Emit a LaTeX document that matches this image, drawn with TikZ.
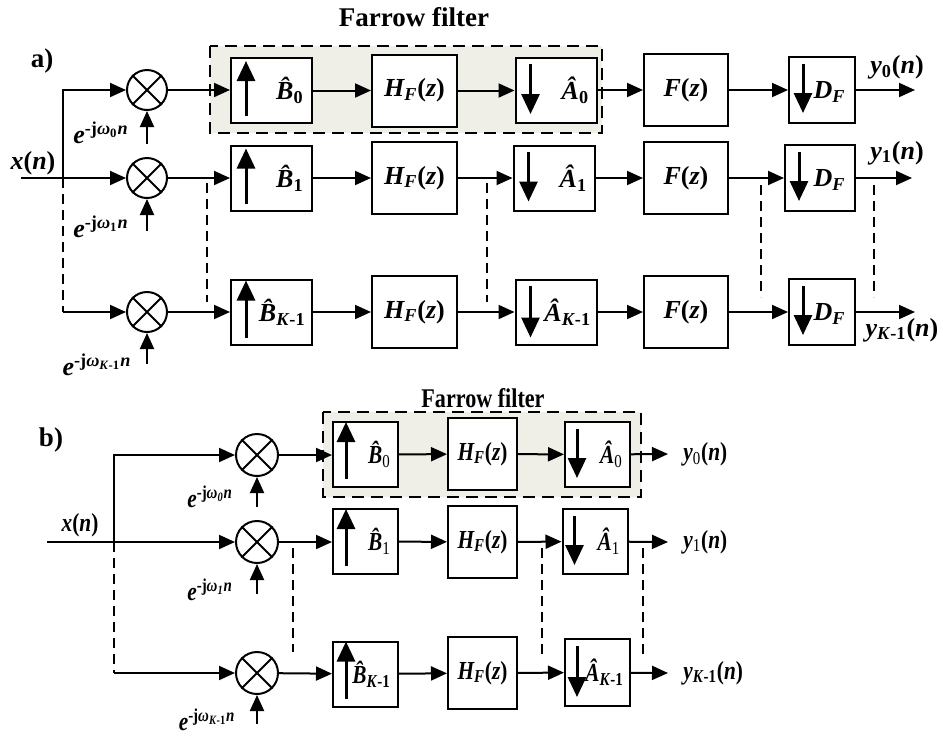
\documentclass[tikz,border=0pt]{standalone}
\usepackage{fontspec}
\setmainfont{Liberation Serif}
\usetikzlibrary{arrows.meta,calc}
\definecolor{farrowbg}{RGB}{239,239,231}
\newcommand{\Bh}[1]{\^{B}\textsubscript{#1}}
\newcommand{\Ah}[1]{\^{A}\textsubscript{#1}}
\newcommand{\km}{K\textup{-1}}
\newcommand{\dg}[1]{\textup{\mdseries #1}}
\newcommand{\HFz}{H\textsubscript{F}\textup{(}z\textup{)}}
\newcommand{\Fz}{F\textup{(}z\textup{)}}
\newcommand{\DF}{D\textsubscript{F}}
\newcommand{\yn}[1]{y\textsubscript{#1}\textup{(}n\textup{)}}
\newcommand{\xn}{x\textup{(}n\textup{)}}
\newcommand{\expo}[1]{e\textsuperscript{\textup{-j}ω\textsubscript{#1}n}}
\newcommand{\nrw}[1]{\scalebox{0.82}[1]{#1}}
\tikzset{
  blk/.style={draw,line width=1pt,fill=white,inner sep=0pt},
  mix/.style={draw,circle,line width=1pt,fill=white,inner sep=0pt,minimum size=20pt},
  arr/.style={line width=1pt,-{Triangle[length=8pt,width=7pt]}},
  inarr/.style={line width=1.5pt,-{Triangle[length=10pt,width=9pt]}},
  dots/.style={line width=1pt,dash pattern=on 5pt off 3pt},
  farrow/.style={line width=1.2pt,dash pattern=on 6pt off 3.5pt,fill=farrowbg},
  tag/.style={font=\fontsize{13.5}{15}\selectfont\bfseries\upshape}
}
\begin{document}
\begin{tikzpicture}[x=0.5pt,y=-0.5pt,
  every node/.style={font=\fontsize{13}{15}\selectfont\bfseries\itshape,inner sep=0pt}]
\useasboundingbox (0,0) rectangle (943,735);
% ---------- a) ----------
\node[tag] (taga) at (42,61) {a)};
\node[tag] (fara) at (414,17) {Farrow filter};
\draw[farrow] (210,46) rectangle (602,133);
\node[mix] (ma0) at (147,90) {};
\node[mix] (ma1) at (147,178) {};
\node[mix] (maK) at (147,312) {};
\node[blk,minimum width=40.5pt,minimum height=32.5pt] (ba0) at (271.5,90.5) {};
\node[blk,minimum width=40.5pt,minimum height=32.5pt] (ba1) at (271.5,178) {};
\node[blk,minimum width=40.5pt,minimum height=32.5pt] (baK) at (271.5,312) {};
\node[blk,minimum width=42.5pt,minimum height=36pt] (ha0) at (414.5,90.5) {\HFz};
\node[blk,minimum width=42.5pt,minimum height=36pt] (ha1) at (414.5,178) {\HFz};
\node[blk,minimum width=42.5pt,minimum height=36pt] (haK) at (414.5,312) {\HFz};
\node[blk,minimum width=40.5pt,minimum height=32.5pt] (aa0) at (556,90.5) {};
\node[blk,minimum width=40.5pt,minimum height=32.5pt] (aa1) at (554,178) {};
\node[blk,minimum width=40.5pt,minimum height=32.5pt] (aaK) at (556,312) {};
\node[blk,minimum width=42pt,minimum height=36pt] (fa0) at (686,90) {\Fz};
\node[blk,minimum width=42pt,minimum height=36pt] (fa1) at (686,178) {\Fz};
\node[blk,minimum width=42pt,minimum height=36pt] (faK) at (686,312) {\Fz};
\node[blk,minimum width=33pt,minimum height=33pt] (da0) at (822,90) {};
\node[blk,minimum width=35pt,minimum height=33pt] (da1) at (820,178) {};
\node[blk,minimum width=33pt,minimum height=33pt] (daK) at (822,312) {};
% labels inside the boxes
\node[anchor=east] (lba0) at ($(ba0.east)+(-9,0)$) {\Bh{\textup{0}}};
\node[anchor=east] (lba1) at ($(ba1.east)+(-9,0)$) {\Bh{\textup{1}}};
\node[anchor=east] (lbaK) at ($(baK.east)+(-7,0)$) {\Bh{\km}};
\node[anchor=east] (laa0) at ($(aa0.east)+(-8,0)$) {\Ah{\textup{0}}};
\node[anchor=east] (laa1) at ($(aa1.east)+(-8,0)$) {\Ah{\textup{1}}};
\node[anchor=east] (laaK) at ($(aaK.east)+(-6,0)$) {\Ah{\km}};
\node[anchor=east] (lda0) at ($(da0.east)+(-10,2)$) {\DF};
\node[anchor=east] (lda1) at ($(da1.east)+(-10,2)$) {\DF};
\node[anchor=east] (ldaK) at ($(daK.east)+(-10,2)$) {\DF};
\draw[inarr] ($(ba0.south west)+(16,-8)$) -- ($(ba0.north west)+(16,4)$);
\draw[inarr] ($(ba1.south west)+(16,-8)$) -- ($(ba1.north west)+(16,4)$);
\draw[inarr] ($(baK.south west)+(16,-8)$) -- ($(baK.north west)+(16,2)$);
\draw[inarr] ($(aa0.north west)+(16,7)$) -- ($(aa0.south west)+(16,-10)$);
\draw[inarr] ($(aa1.north west)+(16,7)$) -- ($(aa1.south west)+(16,-10)$);
\draw[inarr] ($(aaK.north west)+(16,7)$) -- ($(aaK.south west)+(16,-8)$);
\draw[inarr] ($(da0.north west)+(15,8)$) -- ($(da0.south west)+(15,-11)$);
\draw[inarr] ($(da1.north west)+(15,8)$) -- ($(da1.south west)+(15,-11)$);
\draw[inarr] ($(daK.north west)+(15,8)$) -- ($(daK.south west)+(15,-11)$);
% input and mixers
\node[anchor=center] (xa) at (33,163) {\xn};
\coordinate (ina) at (21,178);
\coordinate (ja) at (63,178);
\coordinate (jaK) at (63,312);
\draw[arr] (ina) -- (ma1);
\draw[arr] (ja) |- (ma0);
\draw[dots] (ja) -- (jaK);
\draw[arr] (jaK) -- (maK);
\draw[arr] ($(ma0.south)+(0,33)$) -- (ma0.south);
\draw[arr] ($(ma1.south)+(0,32)$) -- (ma1.south);
\draw[arr] ($(maK.south)+(0,31)$) -- (maK.south);
\node (ea0) at (101,133) {\expo{\textup{0}}};
\node (ea1) at (101,227) {\expo{\textup{1}}};
\node (eaK) at (97,365) {\expo{\km}};
% chain connectors
\draw[arr] (ma0) -- (ba0.west |- ma0);
\draw[arr] (ma1) -- (ba1);
\draw[arr] (maK) -- (baK);
\draw[arr] (ba0.east |- ha0) -- (ha0);
\draw[arr] (ba1) -- (ha1);
\draw[arr] (baK) -- (haK);
\draw[arr] (ha0) -- (aa0.west |- ha0);
\draw[arr] (ha1) -- (aa1);
\draw[arr] (haK) -- (aaK);
\draw[arr] (aa0.east |- fa0) -- (fa0);
\draw[arr] (aa1) -- (fa1);
\draw[arr] (aaK) -- (faK);
\draw[arr] (fa0) -- (da0);
\draw[arr] (fa1) -- (da1);
\draw[arr] (faK) -- (daK);
\coordinate (oa0) at (915,90);
\coordinate (oa1) at (912,178);
\coordinate (oaK) at (915,312);
\draw[arr] (da0) -- (oa0);
\draw[arr] (da1) -- (oa1);
\draw[arr] (daK) -- (oaK);
\node (ya0) at (897,67) {\yn{\textup{0}}};
\node (ya1) at (897,153) {\yn{\textup{1}}};
\node (yaK) at (902,330) {\yn{\km}};
% dashed continuation marks
\draw[dots] (207,183) -- (207,302);
\draw[dots] (487,183) -- (487,302);
\draw[dots] (761,185) -- (761,297);
\draw[dots] (874,185) -- (874,297);
% ---------- b) ----------
\node[tag] (tagb) at (51,440) {b)};
\node[tag] (farb) at (483,398) {\nrw{Farrow filter}};
\draw[farrow] (323,412) rectangle (641,497);
\node[mix,minimum size=21pt] (mb0) at (257,455) {};
\node[mix,minimum size=21pt] (mb1) at (257,542) {};
\node[mix,minimum size=21pt] (mbK) at (257,673) {};
\node[blk,minimum width=32.5pt,minimum height=32.5pt] (bb0) at (365.5,454.5) {};
\node[blk,minimum width=32.5pt,minimum height=32.5pt] (bb1) at (365.5,541.5) {};
\node[blk,minimum width=32.5pt,minimum height=32.5pt] (bbK) at (365.5,674) {};
\node[blk,minimum width=34.5pt,minimum height=36pt] (hb0) at (482.5,454) {\nrw{\HFz}};
\node[blk,minimum width=34.5pt,minimum height=36pt] (hb1) at (482.5,542) {\nrw{\HFz}};
\node[blk,minimum width=34.5pt,minimum height=36pt] (hbK) at (482.5,673) {\nrw{\HFz}};
\node[blk,minimum width=32.5pt,minimum height=32.5pt] (ab0) at (597.5,454.5) {};
\node[blk,minimum width=32.5pt,minimum height=32.5pt] (ab1) at (595,541.5) {};
\node[blk,minimum width=32.5pt,minimum height=33.5pt] (abK) at (597.5,672.5) {};
\node[anchor=east] (lbb0) at ($(bb0.east)+(-8,0)$) {\nrw{\Bh{\dg{0}}}};
\node[anchor=east] (lbb1) at ($(bb1.east)+(-8,0)$) {\nrw{\Bh{\dg{1}}}};
\node[anchor=east] (lbbK) at ($(bbK.east)+(-8,0)$) {\nrw{\Bh{\km}}};
\node[anchor=east] (lab0) at ($(ab0.east)+(-8,0)$) {\nrw{\Ah{\dg{0}}}};
\node[anchor=east] (lab1) at ($(ab1.east)+(-8,0)$) {\nrw{\Ah{\dg{1}}}};
\node[anchor=east] (labK) at ($(abK.east)+(-7,0)$) {\nrw{\Ah{\km}}};
\draw[inarr] ($(bb0.south west)+(14,-9)$) -- ($(bb0.north west)+(14,1)$);
\draw[inarr] ($(bb1.south west)+(14,-9)$) -- ($(bb1.north west)+(14,1)$);
\draw[inarr] ($(bbK.south west)+(14,-9)$) -- ($(bbK.north west)+(14,1)$);
\draw[inarr] ($(ab0.north west)+(13,8)$) -- ($(ab0.south west)+(13,-10)$);
\draw[inarr] ($(ab1.north west)+(13,8)$) -- ($(ab1.south west)+(13,-10)$);
\draw[inarr] ($(abK.north west)+(13,8)$) -- ($(abK.south west)+(13,-10)$);
\node (xb) at (80,525) {\nrw{\xn}};
\coordinate (inb) at (47,542);
\coordinate (jb) at (114,542);
\coordinate (jbK) at (114,673);
\draw[arr] (inb) -- (mb1);
\draw[arr] (jb) |- (mb0);
\draw[dots] (jb) -- (jbK);
\draw[arr] (jbK) -- (mbK);
\draw[arr] ($(mb0.south)+(0,30)$) -- (mb0.south);
\draw[arr] ($(mb1.south)+(0,30)$) -- (mb1.south);
\draw[arr] ($(mbK.south)+(0,29)$) -- (mbK.south);
\node (eb0) at (210,497) {\nrw{\expo{0}}};
\node (eb1) at (210,590) {\nrw{\expo{1}}};
\node (ebK) at (207,720) {\nrw{\expo{\km}}};
\draw[arr] (mb0) -- (bb0.west |- mb0);
\draw[arr] (mb1) -- (bb1.west |- mb1);
\draw[arr] (mbK) -- (bbK);
\draw[arr] (bb0) -- (hb0);
\draw[arr] (bb1) -- (hb1);
\draw[arr] (bbK) -- (hbK);
\draw[arr] (hb0) -- (ab0);
\draw[arr] (hb1) -- (ab1);
\draw[arr] (hbK) -- (abK);
\coordinate (ob0) at (668,454);
\coordinate (ob1) at (668,542);
\coordinate (obK) at (668,673);
\draw[arr] (ab0) -- (ob0);
\draw[arr] (ab1) -- (ob1);
\draw[arr] (abK) -- (obK);
\node[anchor=west] (yb0) at (683,454) {\nrw{\yn{\dg{0}}}};
\node[anchor=west] (yb1) at (683,542) {\nrw{\yn{\dg{1}}}};
\node[anchor=west] (ybK) at (683,673) {\nrw{\yn{\km}}};
\draw[dots] (293,548) -- (293,652);
\draw[dots] (542,548) -- (542,658);
\draw[dots] (643,548) -- (643,658);
% crosses in the mixers
\draw[line width=1pt] (ma0.north west) -- (ma0.south east) (ma0.north east) -- (ma0.south west);
\draw[line width=1pt] (ma1.north west) -- (ma1.south east) (ma1.north east) -- (ma1.south west);
\draw[line width=1pt] (maK.north west) -- (maK.south east) (maK.north east) -- (maK.south west);
\draw[line width=1pt] (mb0.north west) -- (mb0.south east) (mb0.north east) -- (mb0.south west);
\draw[line width=1pt] (mb1.north west) -- (mb1.south east) (mb1.north east) -- (mb1.south west);
\draw[line width=1pt] (mbK.north west) -- (mbK.south east) (mbK.north east) -- (mbK.south west);
\end{tikzpicture}
\end{document}
